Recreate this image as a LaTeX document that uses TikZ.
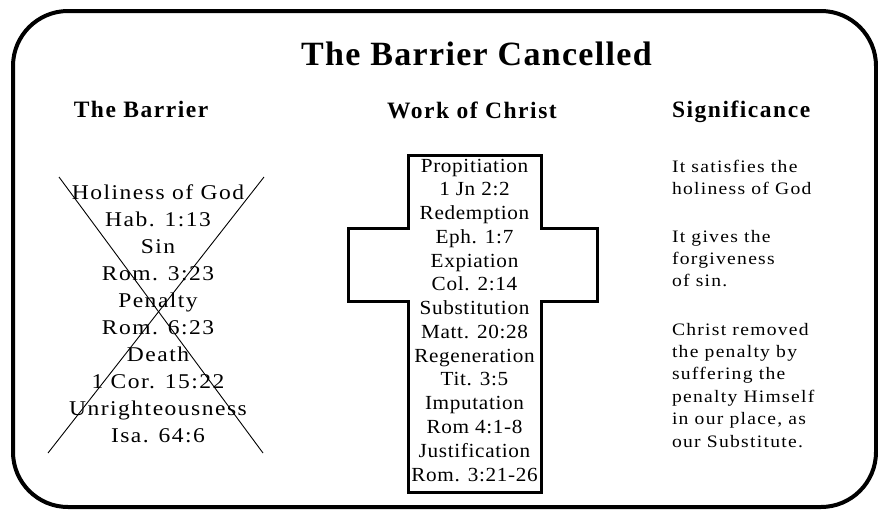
\documentclass[tikz,border=0pt]{standalone}
\usepackage{fontspec}
\setmainfont{Liberation Serif}
\newfontfamily\titlefont[LetterSpace=3.9]{Liberation Serif}
\newfontfamily\headfont[LetterSpace=6.5]{Liberation Serif}
\newfontfamily\barfont[FakeStretch=1.12,LetterSpace=7.1]{Liberation Serif}
\newfontfamily\crossfont[FakeStretch=1.06,LetterSpace=3.3]{Liberation Serif}
\newfontfamily\sigfont[FakeStretch=1.12,LetterSpace=7.3]{Liberation Serif}
\begin{document}
\begin{tikzpicture}[x=1pt,y=-1pt,
  txt/.style={inner sep=0pt, outer sep=0pt, anchor=base},
  ttl/.style={txt, font=\titlefont\bfseries\fontsize{34}{40}\selectfont},
  hdr/.style={txt, font=\headfont\bfseries\fontsize{23.5}{28}\selectfont},
  barline/.style={txt, font=\barfont\fontsize{21}{26}\selectfont},
  crossline/.style={txt, font=\crossfont\fontsize{20}{24}\selectfont},
  sigline/.style={txt, anchor=base west, font=\sigfont\fontsize{17.5}{22}\selectfont},
  frame/.style={line width=4pt, rounded corners=55pt},
  crossshape/.style={line width=3pt, line join=miter},
  strike/.style={line width=0.9pt}]
\useasboundingbox (0,0) rectangle (878,509);
\fill[white] (0,0) rectangle (878,509);
% frame
\draw[frame] (13,11) rectangle (876,507);
% title and headers
\node[ttl] (title) at (476.5,65) {The Barrier Cancelled};
\node[hdr] (hbar) at (141,117) {The Barrier};
\node[hdr] (hwork) at (472,118) {Work of Christ};
\node[hdr, anchor=base west] (hsig) at (672,117) {Significance};
% barrier list
\foreach \t [count=\i] in {Holiness of God, Hab. 1:13, Sin, Rom. 3:23, Penalty, Rom. 6:23, Death, 1 Cor. 15:22, Unrighteousness, Isa. 64:6}
  \node[barline] (bar\i) at (158,{199+27.1*(\i-1)}) {\t};
% strike-through X
\coordinate (xa) at (59,177);
\coordinate (xb) at (263,453);
\coordinate (xc) at (264,177);
\coordinate (xd) at (48,453);
\draw[strike] (xa) -- (xb);
\draw[strike] (xc) -- (xd);
% cross
\draw[crossshape] (408,155) -- (541,155) -- (541,228) -- (597,228) -- (597,301)
  -- (541,301) -- (541,492) -- (408,492) -- (408,301) -- (348,301) -- (348,228)
  -- (408,228) -- cycle;
\foreach \t [count=\i] in {Propitiation, 1 Jn 2:2, Redemption, Eph. 1:7, Expiation, Col. 2:14, Substitution, Matt. 20:28, Regeneration, Tit. 3:5, Imputation, Rom 4:1-8, Justification, Rom. 3:21-26}
  \node[crossline] (cr\i) at (474.5,{172+23.77*(\i-1)}) {\t};
% significance
\node[sigline] (s1) at (672,172) {It satisfies the};
\node[sigline] (s2) at (672,194) {holiness of God};
\node[sigline] (s3) at (672,242) {It gives the};
\node[sigline] (s4) at (672,264) {forgiveness};
\node[sigline] (s5) at (672,286) {of sin.};
\node[sigline] (s6) at (672,335) {Christ removed};
\node[sigline] (s7) at (672,357) {the penalty by};
\node[sigline] (s8) at (672,379) {suffering the};
\node[sigline] (s9) at (672,402) {penalty Himself};
\node[sigline] (s10) at (672,424) {in our place, as};
\node[sigline] (s11) at (672,447) {our Substitute.};
\end{tikzpicture}
\end{document}
